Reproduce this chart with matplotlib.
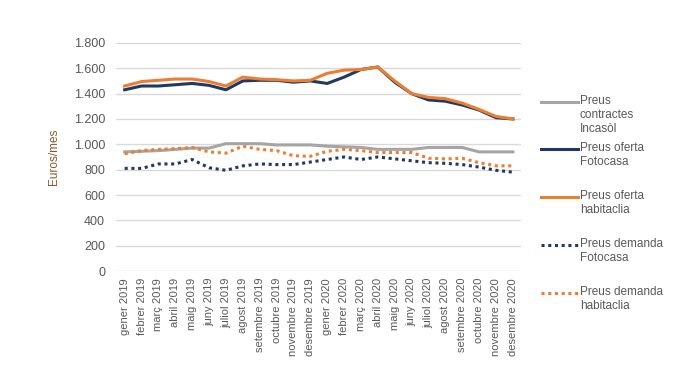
import matplotlib.pyplot as plt
from matplotlib.lines import Line2D
from matplotlib.ticker import FuncFormatter

plt.rcParams['font.family'] = ['Liberation Sans', 'DejaVu Sans']

mesos = ['gener 2019', 'febrer 2019', 'març 2019', 'abril 2019', 'maig 2019', 'juny 2019',
         'juliol 2019', 'agost 2019', 'setembre 2019', 'octubre 2019', 'novembre 2019',
         'desembre 2019', 'gener 2020', 'febrer 2020', 'març 2020', 'abril 2020',
         'maig 2020', 'juny 2020', 'juliol 2020', 'agost 2020', 'setembre 2020',
         'octubre 2020', 'novembre 2020', 'desembre 2020']

incasol = [940, 945, 950, 960, 970, 970, 1005, 1005, 1005, 995, 995, 995,
           985, 980, 975, 960, 960, 960, 975, 975, 975, 940, 940, 940]
oferta_fotocasa = [1430, 1460, 1460, 1470, 1480, 1465, 1430, 1500, 1505, 1505, 1490, 1500,
                   1480, 1530, 1590, 1610, 1490, 1400, 1350, 1340, 1310, 1270, 1210, 1200]
oferta_habitaclia = [1460, 1495, 1505, 1515, 1515, 1495, 1460, 1530, 1515, 1510, 1500, 1505,
                     1560, 1585, 1590, 1610, 1500, 1400, 1370, 1360, 1325, 1275, 1220, 1200]
demanda_fotocasa = [810, 810, 845, 845, 880, 815, 795, 830, 845, 840, 840, 860,
                    880, 900, 880, 900, 885, 870, 855, 850, 840, 820, 795, 780]
demanda_habitaclia = [925, 950, 960, 965, 975, 940, 930, 985, 960, 950, 910, 905,
                      945, 960, 950, 935, 935, 935, 890, 885, 890, 855, 830, 830]

GRIS = '#A5A5A5'
BLAU = '#1F3864'
TARONJA = '#ED7D31'
PUNTS = (0, (1, 1.2))

series = [
    ('Preus\ncontractes\nIncasòl', incasol, GRIS, '-'),
    ('Preus oferta\nFotocasa', oferta_fotocasa, BLAU, '-'),
    ('Preus oferta\nhabitaclia', oferta_habitaclia, TARONJA, '-'),
    ('Preus demanda\nFotocasa', demanda_fotocasa, BLAU, PUNTS),
    ('Preus demanda\nhabitaclia', demanda_habitaclia, TARONJA, PUNTS),
]

W, H = 696, 390
fig = plt.figure(figsize=(W / 100, H / 100), dpi=100)
ax = fig.add_axes([0.167, 0.305, 0.582, 0.585])

x = range(len(mesos))
for label, vals, col, ls in series:
    ax.plot(x, vals, color=col, lw=2.2, ls=ls)

ax.set_xlim(-0.5, len(mesos) - 0.5)
ax.set_ylim(0, 1800)
ax.set_yticks(range(0, 1801, 200))
ax.yaxis.set_major_formatter(FuncFormatter(lambda v, p: f'{int(v):,}'.replace(',', '.')))
ax.set_xticks(list(x))
ax.set_xticklabels(mesos, rotation=90)
ax.tick_params(axis='both', length=0, colors='#595959')
ax.tick_params(axis='x', labelsize=8, pad=5)
ax.tick_params(axis='y', labelsize=9, pad=8)
ax.grid(axis='y', color='#D9D9D9', lw=1)
ax.set_axisbelow(True)
for s in ax.spines.values():
    s.set_visible(False)

ax.set_ylabel('Euros/mes', color='#8B5A2B', fontsize=8.5, labelpad=10)

# llegenda feta a mà: la línia alineada amb la primera línia del text
leg_y = [102, 149, 197, 245, 293]
for (label, vals, col, ls), yp in zip(series, leg_y):
    yf = 1 - yp / H
    fig.add_artist(Line2D([541 / W, 578 / W], [yf, yf], color=col, lw=2.2, ls=ls))
    fig.text(580 / W, yf + 7 / H, label, fontsize=8.5, color='#595959', va='top', ha='left')

fig.savefig('out.png', dpi=100)
